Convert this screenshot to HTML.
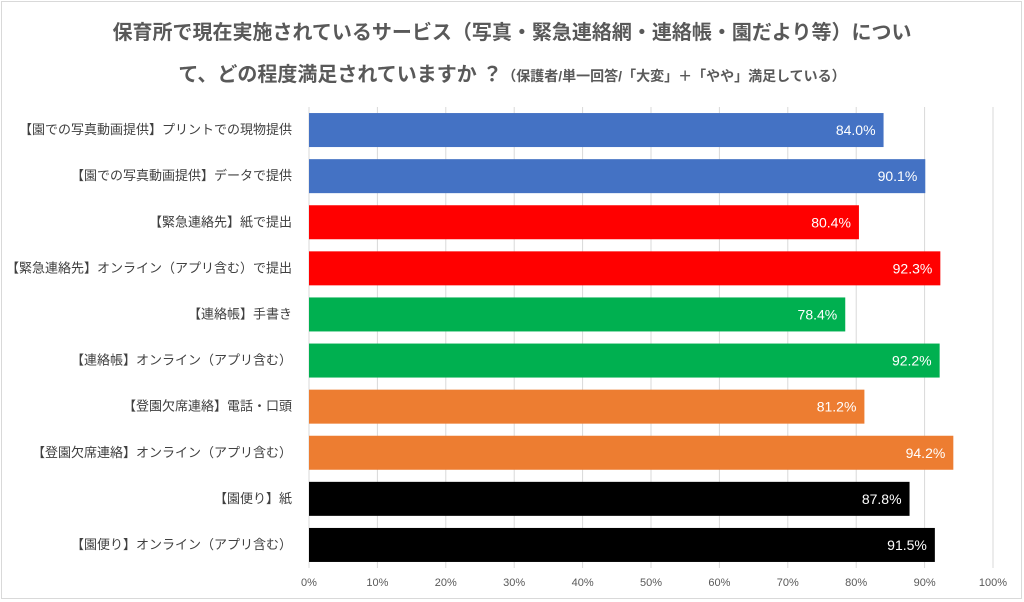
<!DOCTYPE html>
<html><head><meta charset="utf-8"><style>
body{margin:0;background:#fff;}
#wrap{position:relative;width:1024px;height:602px;overflow:hidden;font-family:"Liberation Sans","Noto Sans CJK JP",sans-serif;}
#frame{position:absolute;left:1px;top:1px;width:1019px;height:596px;border:1px solid #d9d9d9;}
.t{position:absolute;left:0;width:1024px;text-align:center;color:#595959;font-weight:bold;}
</style></head><body>
<div id="wrap">
<div id="frame"></div>
<div class="t" style="top:16px;font-size:20px;">保育所で現在実施されているサービス（写真・緊急連絡網・連絡帳・園だより等）につい</div>
<div class="t" style="top:58px;font-size:20px;">て、どの程度満足されていますか ？<span style="font-size:14px">（保護者/単一回答/「大変」＋「やや」満足している）</span></div>
<svg id="svg" width="1024" height="602" style="position:absolute;left:0;top:0"></svg>
</div>
<script>
const categories=["【園での写真動画提供】プリントでの現物提供","【園での写真動画提供】データで提供","【緊急連絡先】紙で提出","【緊急連絡先】オンライン（アプリ含む）で提出","【連絡帳】手書き","【連絡帳】オンライン（アプリ含む）","【登園欠席連絡】電話・口頭","【登園欠席連絡】オンライン（アプリ含む）","【園便り】紙","【園便り】オンライン（アプリ含む）"];
const values=[84.0,90.1,80.4,92.3,78.4,92.2,81.2,94.2,87.8,91.5];
const colors=["#4472c4","#4472c4","#ff0000","#ff0000","#00b050","#00b050","#ed7d31","#ed7d31","#000000","#000000"];
const ticks=[0,10,20,30,40,50,60,70,80,90,100];
const NS="http://www.w3.org/2000/svg";
const svg=document.getElementById('svg');
const x0=309,pw=684,top0=107,bot=568;
const xs=v=>x0+v/100*pw;
const band=(bot-top0)/categories.length;
const yc=i=>top0+band*(i+0.5);
function mk(t,a){const e=document.createElementNS(NS,t);for(const k in a)e.setAttribute(k,a[k]);svg.appendChild(e);return e;}
ticks.forEach(t=>{
 const g=mk('line',{x1:xs(t),x2:xs(t),y1:top0,y2:bot,stroke:'#d9d9d9','stroke-width':1});
 
 
 const l=mk('text',{x:xs(t),y:586,'text-anchor':'middle','font-size':11,fill:'#595959'});
 l.textContent=t+'%';
 
 
});
categories.forEach((c,i)=>{
 const h=34;
 const r=mk('rect',{x:x0,y:yc(i)-h/2,width:xs(values[i])-x0,height:h,fill:colors[i]});
 
 
 const v=mk('text',{x:xs(values[i])-8,y:yc(i)+5,'text-anchor':'end','font-size':14,fill:'#fff'});
 v.textContent=values[i].toFixed(1)+'%';
 
 
 const lb=mk('text',{x:292,y:yc(i)+4,'text-anchor':'end','font-size':13,fill:'#404040'});
 lb.textContent=c;
 
 
});
</script>
</body></html>
